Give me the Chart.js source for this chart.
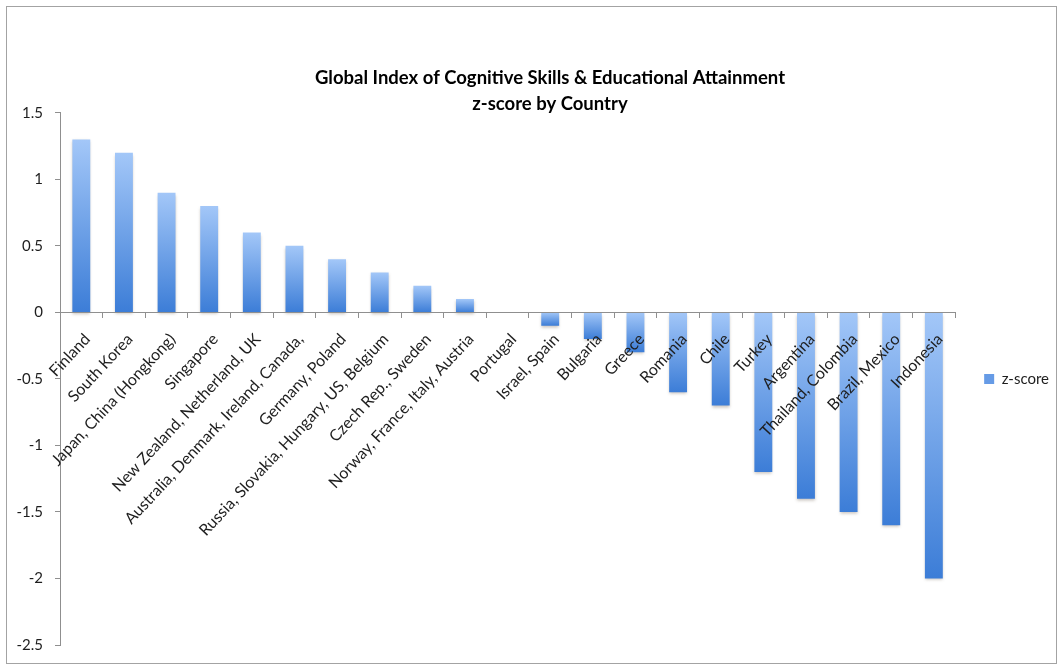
<!DOCTYPE html>
<html>
<head>
<meta charset="utf-8">
<title>Global Index of Cognitive Skills &amp; Educational Attainment</title>
<script src="https://cdn.jsdelivr.net/npm/chart.js@4.4.1/dist/chart.umd.min.js"></script>
<style>
  html, body { margin: 0; padding: 0; background: #fff; }
  #wrap { position: relative; width: 1061px; height: 667px; }
  #frame { position: absolute; left: 6px; top: 6px; width: 1051px; height: 658px; box-sizing: border-box; border: 1px solid #a3a3a3; }
  #chart { position: absolute; left: 0; top: 0; }
</style>
</head>
<body>
<div id="wrap">
  <div id="frame"></div>
  <canvas id="chart" width="1061" height="667"></canvas>
</div>
<script>
const countries = [
  'Finland', 'South Korea', 'Japan, China (Hongkong)', 'Singapore',
  'New Zealand, Netherland, UK', 'Australia, Denmark, Ireland, Canada,',
  'Germany, Poland', 'Russia, Slovakia, Hungary, US, Belgium', 'Czech Rep., Sweden',
  'Norway, France, Italy, Austria', 'Portugal', 'Israel, Spain', 'Bulgaria', 'Greece',
  'Romania', 'Chile', 'Turkey', 'Argentina', 'Thailand, Colombia', 'Brazil, Mexico', 'Indonesia'
];
const zScores = [1.3, 1.2, 0.9, 0.8, 0.6, 0.5, 0.4, 0.3, 0.2, 0.1, 0, -0.1, -0.2, -0.3, -0.6, -0.7, -1.2, -1.4, -1.5, -1.6, -2.0];
const seriesName = 'z-score';
const titleLines = ['Global Index of Cognitive Skills & Educational Attainment', 'z-score by Country'];
const yMin = -2.5, yMax = 1.5, yStep = 0.5;

const LIGHT = '#a3c7f8', DARK = '#3c7dd7';
const AXIS = '#8f8f8f', TEXT = '#1e1e1e';

Chart.defaults.font.family = 'Lato, "Open Sans", sans-serif';
Chart.defaults.color = TEXT;

// each bar gets its own top-to-bottom gradient, light at the top edge
function barFill(c) {
  const chart = c.chart;
  const y = chart.scales.y;
  if (!y || c.type !== 'data') return LIGHT;
  const v = zScores[c.dataIndex];
  const a = y.getPixelForValue(0), b = y.getPixelForValue(v);
  const top = Math.min(a, b), bot = Math.max(a, b);
  if (bot - top < 1) return 'rgba(0,0,0,0)';
  const g = chart.ctx.createLinearGradient(0, top, 0, bot);
  g.addColorStop(0, LIGHT);
  g.addColorStop(1, DARK);
  return g;
}

// soft drop shadow under the bars
const barShadow = {
  id: 'barShadow',
  beforeDatasetsDraw(chart) {
    const ctx = chart.ctx;
    ctx.save();
    ctx.shadowColor = 'rgba(60,40,20,0.28)';
    ctx.shadowBlur = 3;
    ctx.shadowOffsetY = 2;
  },
  afterDatasetsDraw(chart) {
    chart.ctx.restore();
  }
};

// the y axis box is kept narrow so the title centres further right;
// widen its label clip area back to the canvas edge
const yLabelRoom = {
  id: 'yLabelRoom',
  afterLayout(chart) {
    chart.scales.y.left = 0;
  }
};

new Chart(document.getElementById('chart'), {
  type: 'bar',
  data: {
    labels: countries,
    datasets: [{
      label: seriesName,
      data: zScores,
      backgroundColor: barFill,
      borderWidth: 0,
      categoryPercentage: 1,
      barPercentage: 0.42
    }]
  },
  plugins: [barShadow, yLabelRoom],
  options: {
    responsive: false,
    animation: false,
    layout: { padding: { left: 41, right: 2, top: 0, bottom: 22 } },
    plugins: {
      title: {
        display: true,
        text: titleLines,
        color: '#000',
        font: { size: 18.5, weight: 'bold', lineHeight: 1.4 },
        padding: { top: 65, bottom: -4 }
      },
      legend: {
        position: 'right',
        fullSize: false,
        maxWidth: 104,
        labels: {
          boxWidth: 10,
          boxHeight: 10,
          padding: 29,
          color: TEXT,
          font: { size: 15 },
          generateLabels(chart) {
            const items = Chart.defaults.plugins.legend.labels.generateLabels(chart);
            items.forEach(it => { it.fillStyle = '#669be6'; it.lineWidth = 0; });
            return items;
          }
        }
      },
      tooltip: { enabled: false }
    },
    scales: {
      x: {
        position: { y: 0 },
        grid: { offset: true, drawOnChartArea: false, drawTicks: true, tickLength: 5, color: AXIS },
        // axis line and labels go on top of the negative bars
        border: { color: AXIS, z: 1 },
        ticks: {
          autoSkip: false, minRotation: 47, maxRotation: 47,
          padding: 12.5, labelOffset: 6, z: 1,
          color: TEXT, font: { size: 16 }
        },
        afterFit(s) {
          // labels sit on the zero line, so the axis takes no layout room
          s.height = 0;
          s.paddingLeft = 0; s.paddingRight = 0; s.paddingTop = 0; s.paddingBottom = 0;
        }
      },
      y: {
        min: yMin,
        max: yMax,
        grid: { drawOnChartArea: false, drawTicks: true, tickLength: 5, color: AXIS },
        border: { color: AXIS },
        ticks: {
          stepSize: yStep, padding: 12, color: TEXT, font: { size: 15 },
          callback: v => String(Math.round(v * 10) / 10)
        },
        afterFit(s) { s.width = 19; }
      }
    }
  }
});
</script>
</body>
</html>
